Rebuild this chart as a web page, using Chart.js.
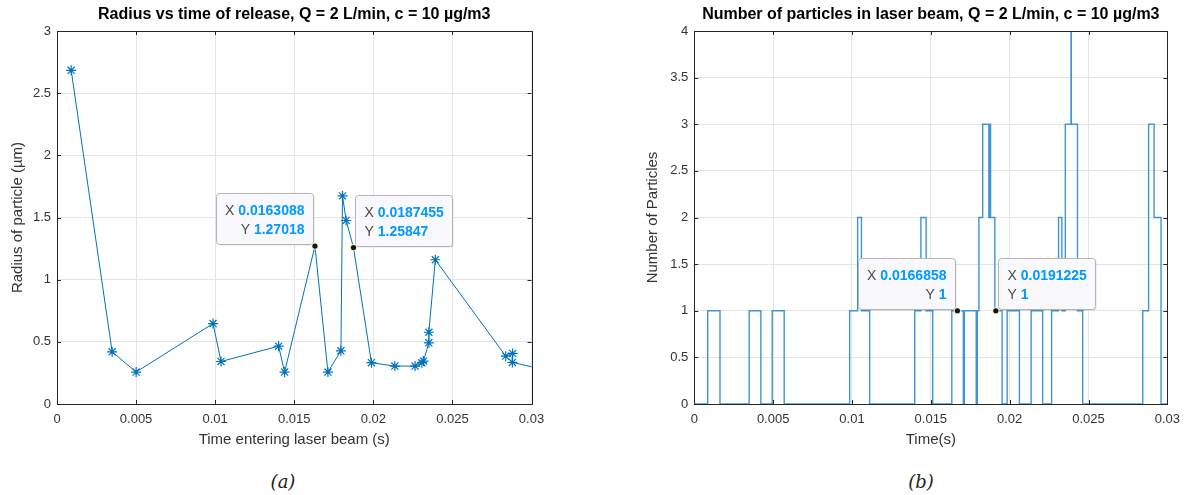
<!DOCTYPE html>
<html>
<head>
<meta charset="utf-8">
<script src="https://cdn.jsdelivr.net/npm/chart.js@4.4.0/dist/chart.umd.min.js"></script>
<style>
  body { margin: 0; background: #fff; width: 1188px; height: 495px; overflow: hidden; }
  .box { position: absolute; top: 0; width: 594px; height: 460px; }
  .cap { position: absolute; top: 471px; width: 100px; text-align: center;
         font-family: "DejaVu Serif", "Liberation Serif", serif; font-style: italic;
         font-size: 18px; line-height: 22px; color: #222; }
</style>
</head>
<body>
<div class="box" style="left:0"><canvas id="radiusChart"></canvas></div>
<div class="box" style="left:594px"><canvas id="countChart"></canvas></div>
<div class="cap" style="left:233px">(a)</div>
<div class="cap" style="left:871px">(b)</div>

<script>
// (a) radius of each particle against the time it enters the beam
const releaseTime = [0.000897, 0.003486, 0.005002, 0.009865, 0.01037, 0.01401, 0.01439,
  0.0163088, 0.01713, 0.01795, 0.01805, 0.01828, 0.0187455, 0.01988, 0.02136, 0.02264,
  0.02307, 0.02317, 0.02351, 0.02351, 0.02392, 0.02837, 0.02881, 0.02879, 0.0305];
const radius = [2.684, 0.42, 0.257, 0.647, 0.342, 0.465, 0.257,
  1.27018, 0.257, 0.428, 1.674, 1.476, 1.25847, 0.332, 0.305, 0.305,
  0.332, 0.345, 0.492, 0.577, 1.16, 0.385, 0.407, 0.334, 0.286];

// (b) number of particles in the beam, stairs
const stepTime = [0, 0.00085, 0.00163, 0.00348, 0.00422, 0.00494, 0.0057,
  0.00985, 0.01036, 0.0106, 0.01112, 0.01398, 0.01437, 0.0147, 0.01512,
  0.01633, 0.01706, 0.01713, 0.01788, 0.01795, 0.01805, 0.01829, 0.01868,
  0.01874, 0.01879, 0.01906, 0.01952, 0.01984, 0.02062, 0.02136, 0.02209,
  0.02266, 0.0231, 0.02331, 0.02353, 0.02389, 0.02391, 0.0243, 0.02463,
  0.02844, 0.02881, 0.02916, 0.0296, 0.03];
const particleCount = [0, 1, 0, 1, 0, 1, 0,
  1, 2, 1, 0, 1, 2, 1, 0,
  1, 0, 1, 0, 1, 2, 3, 2,
  3, 2, 1, 0, 1, 0, 1, 0,
  1, 2, 1, 3, 4, 3, 1, 0,
  1, 3, 2, 0, 0];

const xTickLabels = ["0", "0.005", "0.01", "0.015", "0.02", "0.025", "0.03"];
const radiusTickLabels = ["0", "0.5", "1", "1.5", "2", "2.5", "3"];
const countTickLabels = ["0", "0.5", "1", "1.5", "2", "2.5", "3", "3.5", "4"];

// data tips shown on the figure
const radiusTips = [
  { x: 0.0163088, y: 1.27018, side: "left" },
  { x: 0.0187455, y: 1.25847, side: "right" },
];
const countTips = [
  { x: 0.0166858, y: 1, side: "left" },
  { x: 0.0191225, y: 1, side: "right" },
];

const FONT = '"Liberation Sans", Arial, Helvetica, sans-serif';
const AXIS_COLOR = "#333333";

// MATLAB style box: frame on all sides plus inward ticks
const matlabBox = {
  id: "matlabBox",
  afterDatasetsDraw(chart) {
    const ctx = chart.ctx;
    const a = chart.chartArea;
    const xs = chart.scales.x;
    const ys = chart.scales.y;
    ctx.save();
    ctx.strokeStyle = "#262626";
    ctx.lineWidth = 1;
    ctx.beginPath();
    xs.ticks.forEach((t) => {
      const px = Math.round(xs.getPixelForValue(t.value)) + 0.5;
      ctx.moveTo(px, a.bottom); ctx.lineTo(px, a.bottom - 4);
      ctx.moveTo(px, a.top); ctx.lineTo(px, a.top + 4);
    });
    ys.ticks.forEach((t) => {
      const py = Math.round(ys.getPixelForValue(t.value)) + 0.5;
      ctx.moveTo(a.left, py); ctx.lineTo(a.left + 4, py);
      ctx.moveTo(a.right, py); ctx.lineTo(a.right - 4, py);
    });
    ctx.stroke();
    ctx.strokeRect(Math.round(a.left) + 0.5, Math.round(a.top) + 0.5,
      Math.round(a.right - a.left), Math.round(a.bottom - a.top));
    ctx.restore();
  },
};

const dataTips = {
  id: "dataTips",
  afterDraw(chart, args, opts) {
    const ctx = chart.ctx;
    const xs = chart.scales.x;
    const ys = chart.scales.y;
    (opts.items || []).forEach((tip) => {
      const px = xs.getPixelForValue(tip.x);
      const py = ys.getPixelForValue(tip.y);
      const lines = [["X", String(tip.x)], ["Y", String(tip.y)]];
      ctx.save();
      ctx.font = "14px " + FONT;
      const labelW = ctx.measureText("X ").width;
      ctx.font = "bold 14px " + FONT;
      const valueW = lines.map((l) => ctx.measureText(l[1]).width);
      const w = Math.round(labelW + Math.max(...valueW) + 18);
      const h = 51;
      const bx = Math.round(tip.side === "left" ? px - 2 - w : px + 2) + 0.5;
      const by = Math.round(py - 2 - h) + 0.5;

      ctx.fillStyle = "rgba(0,0,0,0.12)";
      ctx.beginPath();
      ctx.roundRect(bx + 1, by + 1, w, h, 3);
      ctx.fill();
      ctx.fillStyle = "#f9f9fd";
      ctx.strokeStyle = "#b4b4b4";
      ctx.beginPath();
      ctx.roundRect(bx, by, w, h, 3);
      ctx.fill();
      ctx.stroke();

      ctx.textBaseline = "middle";
      lines.forEach((l, i) => {
        const ty = by + 18 + i * 19;
        let lx;
        if (tip.side === "left") {
          lx = bx + w - 9 - valueW[i] - labelW;
        } else {
          lx = bx + 9;
        }
        ctx.textAlign = "left";
        ctx.font = "14px " + FONT;
        ctx.fillStyle = "#4a4a4a";
        ctx.fillText(l[0], lx, ty);
        ctx.font = "bold 14px " + FONT;
        ctx.fillStyle = "#0099ff";
        ctx.fillText(l[1], lx + labelW, ty);
      });

      ctx.beginPath();
      ctx.arc(px, py, 3.6, 0, Math.PI * 2);
      ctx.fillStyle = "#f2f0c4";
      ctx.fill();
      ctx.beginPath();
      ctx.arc(px, py, 2.6, 0, Math.PI * 2);
      ctx.fillStyle = "#141414";
      ctx.fill();
      ctx.restore();
    });
  },
};

function buildOptions(cfg) {
  return {
    responsive: true,
    maintainAspectRatio: false,
    animation: false,
    events: [],
    layout: { padding: { left: 0, right: cfg.padRight, top: 0, bottom: 11 } },
    plugins: {
      legend: { display: false },
      tooltip: { enabled: false },
      title: {
        display: true,
        text: cfg.title,
        fullSize: false,
        color: "#000",
        font: { family: FONT, size: 16, weight: "bold" },
        padding: { top: 4.5, bottom: 7.3 },
      },
      dataTips: { items: cfg.tips },
    },
    scales: {
      x: {
        type: "linear",
        min: 0,
        max: 0.03,
        ticks: {
          stepSize: 0.005,
          color: AXIS_COLOR,
          font: { family: FONT, size: 13 },
          padding: 8,
          maxRotation: 0,
          callback: (v, i) => xTickLabels[i],
        },
        grid: { color: "#e4e4e4", drawTicks: false },
        border: { display: false },
        title: {
          display: true,
          text: cfg.xLabel,
          color: AXIS_COLOR,
          font: { family: FONT, size: 15 },
          padding: { top: 0, bottom: 0 },
        },
        afterFit: (scale) => { scale.height = 45; },
      },
      y: {
        min: 0,
        max: cfg.yMax,
        ticks: {
          stepSize: 0.5,
          color: AXIS_COLOR,
          font: { family: FONT, size: 13 },
          padding: 6,
          callback: (v, i) => cfg.yTickLabels[i],
        },
        grid: { color: "#e4e4e4", drawTicks: false },
        border: { display: false },
        title: {
          display: true,
          text: cfg.yLabel,
          color: AXIS_COLOR,
          font: { family: FONT, size: 15 },
          padding: { top: cfg.yTitlePad, bottom: 0 },
        },
        afterFit: (scale) => { scale.width = cfg.yWidth; },
      },
    },
  };
}

new Chart(document.getElementById("radiusChart"), {
  type: "line",
  data: {
    datasets: [{
      data: releaseTime.map((t, i) => ({ x: t, y: radius[i] })),
      borderColor: "#0072BD",
      borderWidth: 1,
      pointStyle: "star",
      pointRadius: (c) => (radiusTips.some((tp) => tp.x === releaseTime[c.dataIndex]) ? 0 : 5),
      pointBorderColor: "#0072BD",
      pointBorderWidth: 1.2,
      tension: 0,
    }],
  },
  options: buildOptions({
    title: "Radius vs time of release, Q = 2 L/min, c = 10 \u00b5g/m3",
    xLabel: "Time entering laser beam (s)",
    yLabel: "Radius of particle (\u00b5m)",
    yMax: 3,
    yTickLabels: radiusTickLabels,
    yWidth: 57,
    yTitlePad: 9,
    padRight: 62.5,
    tips: radiusTips,
  }),
  plugins: [matlabBox, dataTips],
});

new Chart(document.getElementById("countChart"), {
  type: "line",
  data: {
    datasets: [{
      data: stepTime.map((t, i) => ({ x: t, y: particleCount[i] })),
      borderColor: "#4094d4",
      borderWidth: 1.4,
      stepped: true,
      pointRadius: 0,
    }],
  },
  options: buildOptions({
    title: "Number of particles in laser beam, Q = 2 L/min, c = 10 \u00b5g/m3",
    xLabel: "Time(s)",
    yLabel: "Number of Particles",
    yMax: 4,
    yTickLabels: countTickLabels,
    yWidth: 100.3,
    yTitlePad: 50.3,
    padRight: 19.7,
    tips: countTips,
  }),
  plugins: [matlabBox, dataTips],
});
</script>
</body>
</html>
